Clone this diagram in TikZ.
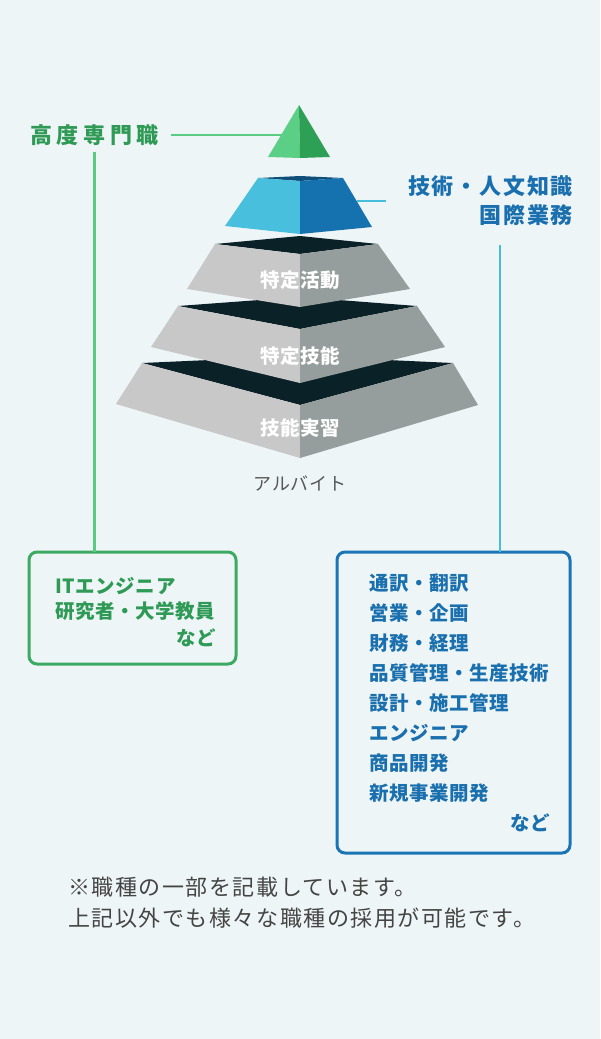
\documentclass[tikz,border=0pt]{standalone}
\usepackage{fontspec}
\newfontfamily\jp{Noto Sans CJK JP}
\definecolor{bg}{HTML}{EEF5F7}
\definecolor{gtext}{HTML}{2E9A55}
\definecolor{gline}{HTML}{5ACB83}
\definecolor{gbox}{HTML}{3DAA63}
\definecolor{glight}{HTML}{5CCF87}
\definecolor{gdark}{HTML}{2EA055}
\definecolor{btext}{HTML}{1A6FAE}
\definecolor{bline}{HTML}{48BEDD}
\definecolor{bbox}{HTML}{1B75B5}
\definecolor{blight}{HTML}{47BFDD}
\definecolor{bdark}{HTML}{1672AE}
\definecolor{btop}{HTML}{0E4E7A}
\definecolor{glt}{HTML}{C8C8C8}
\definecolor{gdk}{HTML}{959E9C}
\definecolor{gtop}{HTML}{0B2128}
\definecolor{note}{HTML}{444444}
\begin{document}
\begin{tikzpicture}[x=1pt,y=-1pt,
    head/.style={inner sep=0pt},
    item/.style={inner sep=0pt,font=\jp\bfseries\fontsize{19.5}{26}\selectfont\addfontfeature{LetterSpace=3}},
    tier/.style={inner sep=0pt,text=white,font=\jp\bfseries\fontsize{19.5}{24}\selectfont\addfontfeature{LetterSpace=3}},
    link/.style={line width=2.5pt},
    listbox/.style={rounded corners=8pt,line width=3pt}]
	\useasboundingbox[fill=bg] (0,0) rectangle (600,1039);
	% labels
	\node[head,text=gtext,anchor=west,font=\jp\bfseries\fontsize{22}{30}\selectfont\addfontfeature{LetterSpace=21}] (senmon) at (30,135) {高度専門職};
	\node[head,text=btext,anchor=east,align=right,font=\jp\bfseries\fontsize{22}{29}\selectfont\addfontfeature{LetterSpace=8}] (gijinkoku) at (573,201) {技術・人文知識\\国際業務};
	\coordinate (gedge) at (282,135);
	\coordinate (bedge) at (357,201);
	\coordinate (bdrop) at (500,245);
	% boxes
	\draw[listbox,gbox] (29,552) rectangle (236,664);
	\node[inner sep=0pt,minimum width=207pt,minimum height=112pt] (itbox) at (132.5,608) {};
	\draw[listbox,bbox] (337,552) rectangle (570,853);
	\node[inner sep=0pt,minimum width=233pt,minimum height=301pt] (bizbox) at (453.5,702.5) {};
	% connectors
	\draw[link,gline] (senmon.east) ++(12,0) -- (gedge);
	\draw[link,gline] (senmon.south) ++(0,6) -- (senmon.south |- itbox.north);
	\draw[link,bline] (bedge) -- (386,201);
	\draw[link,bline] (bdrop) -- (bdrop |- bizbox.north);
	% pyramid, bottom tier first
	\fill[gtop] (142,363) -- (300,356) -- (453,363) -- (300,405) -- cycle;
	\fill[glt] (142,363) -- (300,405) -- (300,458) -- (116,404) -- cycle;
	\fill[gdk] (300,405) -- (453,363) -- (478,405) -- (300,458) -- cycle;
	\fill[gtop] (178,306) -- (300,297) -- (417,306) -- (300,329) -- cycle;
	\fill[glt] (178,306) -- (300,329) -- (300,383) -- (151,347) -- cycle;
	\fill[gdk] (300,329) -- (417,306) -- (445,347) -- (300,383) -- cycle;
	\fill[gtop] (215,244) -- (300,236) -- (378,244) -- (300,254) -- cycle;
	\fill[glt] (215,244) -- (300,254) -- (300,307) -- (187,289) -- cycle;
	\fill[gdk] (300,254) -- (378,244) -- (410,289) -- (300,307) -- cycle;
	\fill[btop] (258,178) -- (300,176) -- (343,178) -- (300,181) -- cycle;
	\fill[blight] (258,178) -- (300,181) -- (300,234) -- (225,226) -- cycle;
	\fill[bdark] (300,181) -- (343,178) -- (372,227) -- (300,234) -- cycle;
	\fill[glight] (299,105) -- (300,158) -- (268,157) -- cycle;
	\fill[gdark] (299,105) -- (330,157) -- (300,158) -- cycle;
	\node[tier] (katsudo) at (300,280) {特定活動};
	\node[tier] (ginou) at (300,356) {特定技能};
	\node[tier] (jisshu) at (300,428) {技能実習};
	\node[inner sep=0pt,text=note!90,font=\jp\fontsize{18}{22}\selectfont\addfontfeature{LetterSpace=4}] (arubaito) at (300,483) {アルバイト};
	% box texts
	\node[item,text=gtext,anchor=west] (it1) at (55,586) {ITエンジニア};
	\node[item,text=gtext,anchor=west] (it2) at (55,611) {研究者・大学教員};
	\node[item,text=gtext,anchor=east] (it3) at (216,638) {など};
	\foreach \t [count=\i] in {通訳・翻訳,営業・企画,財務・経理,品質管理・生産技術,設計・施工管理,エンジニア,商品開発,新規事業開発}
		\node[item,text=btext,anchor=west] (biz\i) at (369,553+30*\i) {\t};
	\node[item,text=btext,anchor=east] (biznado) at (550,823) {など};
	% note
	\node[inner sep=0pt,text=note,anchor=north west,align=left,font=\jp\fontsize{22}{31}\selectfont\addfontfeature{LetterSpace=7}] (chuui) at (68,877) {※職種の一部を記載しています。\\上記以外でも様々な職種の採用が可能です。};
\end{tikzpicture}
\end{document}
